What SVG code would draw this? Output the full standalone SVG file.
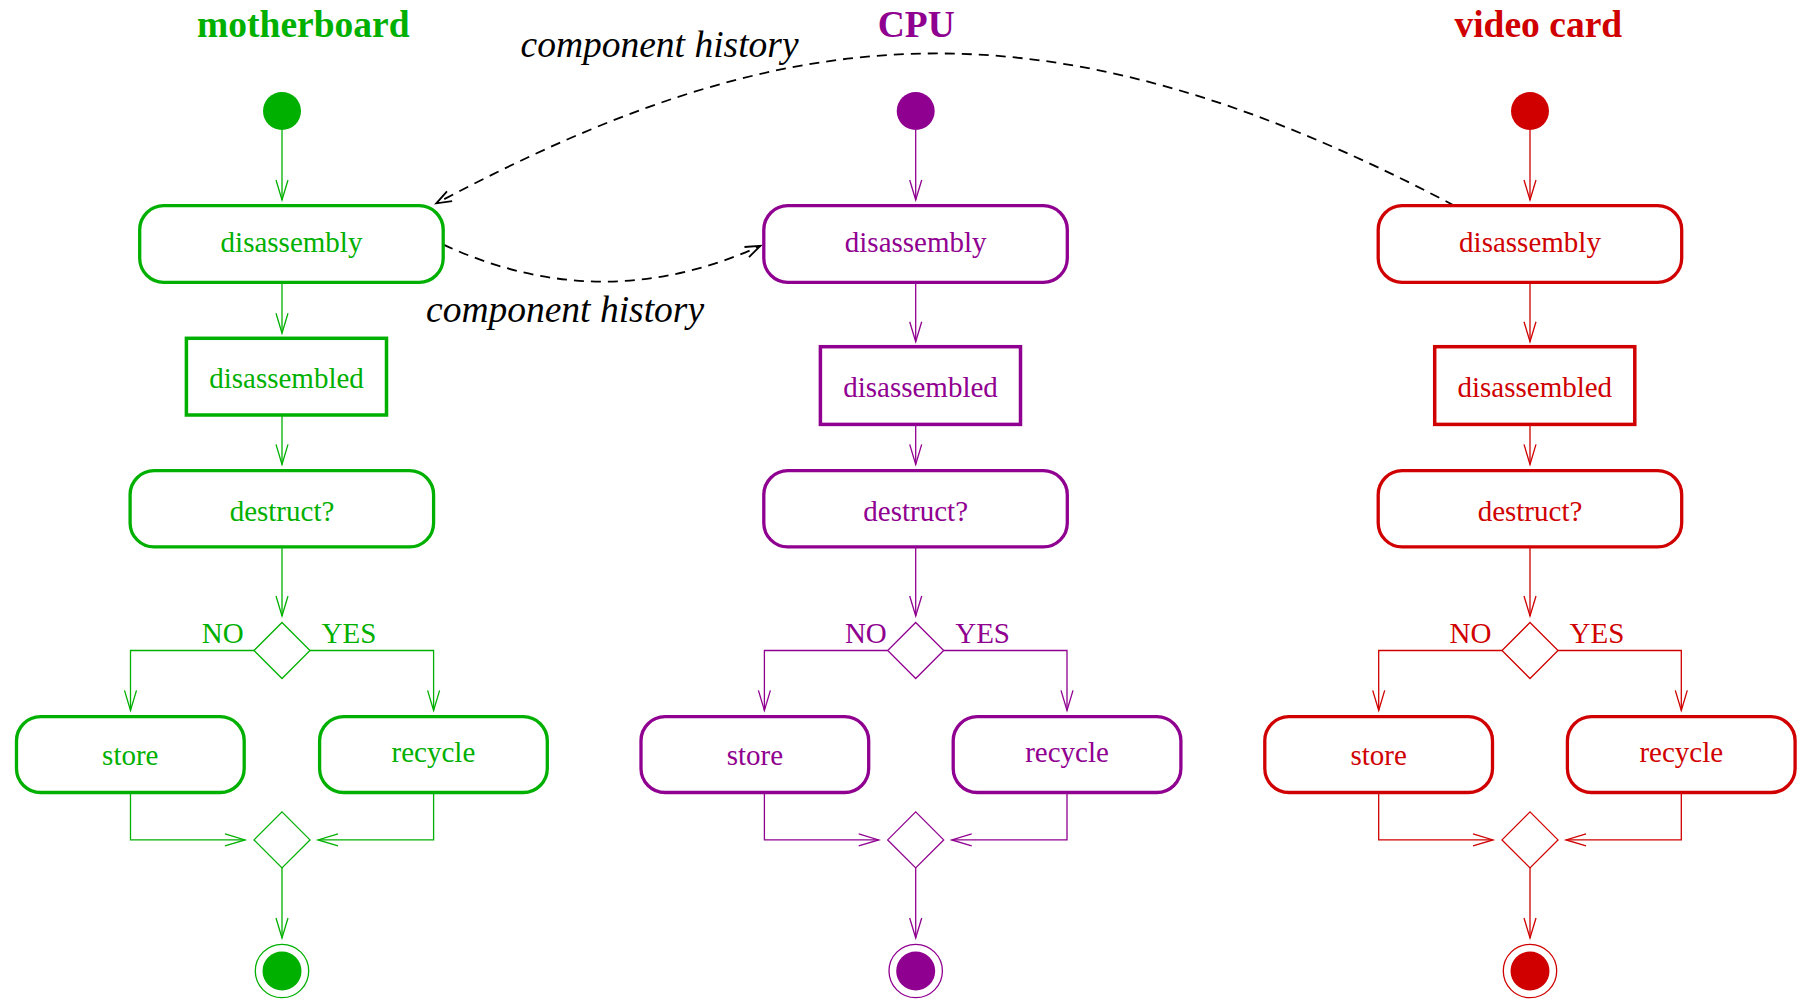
<svg xmlns="http://www.w3.org/2000/svg" width="1801" height="1000" viewBox="0 0 1801 1000">
  <style>
    text { font-family: "Liberation Serif", "Times New Roman", serif; }
    .title { font-size: 37.5px; font-weight: bold; text-anchor: middle; }
    .lbl { font-size: 29px; text-anchor: middle; }
    .guard { font-size: 29px; text-anchor: start; }
    .note { font-size: 37.5px; font-style: italic; fill: #000; }
    .act { fill: #fff; stroke-width: 3.3; }
    .obj { fill: #fff; stroke-width: 3.5; }
    .dia { fill: #fff; stroke-width: 1.3; }
    .ring { fill: none; stroke-width: 1.3; }
    .flow { fill: none; stroke-width: 1.3; }
    .dep { fill: none; stroke: #000; stroke-width: 1.8; stroke-dasharray: 10 7; }
    .green { stroke: #00b000; }
    .green text, text.green { fill: #00b000; stroke: none; }
    .green .dot { fill: #00b000; stroke: none; }
    .purple { stroke: #900090; }
    .purple text, text.purple { fill: #900090; stroke: none; }
    .purple .dot { fill: #900090; stroke: none; }
    .red { stroke: #d00000; }
    .red text, text.red { fill: #d00000; stroke: none; }
    .red .dot { fill: #d00000; stroke: none; }
  </style>
  <defs>
    <marker id="arrG" markerUnits="userSpaceOnUse" orient="auto" refX="0" refY="0" markerWidth="30" markerHeight="30" viewBox="-25 -15 30 30" overflow="visible">
      <path d="M-20,-6 L0,0 L-20,6" fill="none" stroke="#00b000" stroke-width="1.3"/>
    </marker>
    <marker id="arrP" markerUnits="userSpaceOnUse" orient="auto" refX="0" refY="0" markerWidth="30" markerHeight="30" viewBox="-25 -15 30 30" overflow="visible">
      <path d="M-20,-6 L0,0 L-20,6" fill="none" stroke="#900090" stroke-width="1.3"/>
    </marker>
    <marker id="arrR" markerUnits="userSpaceOnUse" orient="auto" refX="0" refY="0" markerWidth="30" markerHeight="30" viewBox="-25 -15 30 30" overflow="visible">
      <path d="M-20,-6 L0,0 L-20,6" fill="none" stroke="#d00000" stroke-width="1.3"/>
    </marker>
    <marker id="arrK" markerUnits="userSpaceOnUse" orient="auto" refX="0" refY="0" markerWidth="30" markerHeight="30" viewBox="-25 -15 30 30" overflow="visible">
      <path d="M-15,-5.5 L0,0 L-15,5.5" fill="none" stroke="#000" stroke-width="1.8"/>
    </marker>
  </defs>

  <rect width="1801" height="1000" fill="#fff"/>

  <!-- swimlane titles -->
  <text class="title green" x="303.3" y="36.5">motherboard</text>
  <text class="title purple" x="916.3" y="36.5">CPU</text>
  <text class="title red" x="1538.3" y="36.5">video card</text>

  <!-- connectors -->
  <g id="connectors">
    <g class="green">
      <path class="flow" marker-end="url(#arrG)" d="M282,130 V200"/>
      <path class="flow" marker-end="url(#arrG)" d="M282,282.3 V333.3"/>
      <path class="flow" marker-end="url(#arrG)" d="M282,415 V464.4"/>
      <path class="flow" marker-end="url(#arrG)" d="M282,547 V616"/>
      <path class="flow" marker-end="url(#arrG)" d="M254,650.5 H130.5 V710.4"/>
      <path class="flow" marker-end="url(#arrG)" d="M310,650.5 H433.6 V710.4"/>
      <path class="flow" marker-end="url(#arrG)" d="M130.5,792.5 V839.9 H245"/>
      <path class="flow" marker-end="url(#arrG)" d="M433.6,792.5 V839.9 H318"/>
      <path class="flow" marker-end="url(#arrG)" d="M282,867.9 V938"/>
      <text class="guard" x="201.7" y="642.5">NO</text>
      <text class="guard" x="321.5" y="642.5">YES</text>
    </g>
    <g class="purple">
      <path class="flow" marker-end="url(#arrP)" d="M915.7,130 V200"/>
      <path class="flow" marker-end="url(#arrP)" d="M915.7,282.3 V341.7"/>
      <path class="flow" marker-end="url(#arrP)" d="M915.7,424.4 V464.4"/>
      <path class="flow" marker-end="url(#arrP)" d="M915.7,547 V616"/>
      <path class="flow" marker-end="url(#arrP)" d="M887.7,650.5 H764.4 V710.4"/>
      <path class="flow" marker-end="url(#arrP)" d="M943.7,650.5 H1067 V710.4"/>
      <path class="flow" marker-end="url(#arrP)" d="M764.4,792.5 V839.9 H878.7"/>
      <path class="flow" marker-end="url(#arrP)" d="M1067,792.5 V839.9 H951.7"/>
      <path class="flow" marker-end="url(#arrP)" d="M915.7,867.9 V938"/>
      <text class="guard" x="844.9" y="642.5">NO</text>
      <text class="guard" x="955.2" y="642.5">YES</text>
    </g>
    <g class="red">
      <path class="flow" marker-end="url(#arrR)" d="M1530,130 V200"/>
      <path class="flow" marker-end="url(#arrR)" d="M1530,282.3 V341.7"/>
      <path class="flow" marker-end="url(#arrR)" d="M1530,424.4 V464.4"/>
      <path class="flow" marker-end="url(#arrR)" d="M1530,547 V616"/>
      <path class="flow" marker-end="url(#arrR)" d="M1502,650.5 H1378.7 V710.4"/>
      <path class="flow" marker-end="url(#arrR)" d="M1558,650.5 H1681.3 V710.4"/>
      <path class="flow" marker-end="url(#arrR)" d="M1378.7,792.5 V839.9 H1493"/>
      <path class="flow" marker-end="url(#arrR)" d="M1681.3,792.5 V839.9 H1566"/>
      <path class="flow" marker-end="url(#arrR)" d="M1530,867.9 V938"/>
      <text class="guard" x="1449.5" y="642.5">NO</text>
      <text class="guard" x="1569.5" y="642.5">YES</text>
    </g>
    <!-- component history links -->
    <path class="dep" marker-end="url(#arrK)" d="M443.4,244.6 Q601.9,318 760.4,245.8"/>
    <path class="dep" marker-end="url(#arrK)" d="M1454.5,205.7 C1034,-16 776,23 436.3,203.3"/>
    <text class="note" x="520.5" y="56.5">component history</text>
    <text class="note" x="426" y="321.5">component history</text>
  </g>

  <!-- motherboard lane -->
  <g id="mb-start" class="green"><circle class="dot" cx="282" cy="111" r="19"/></g>
  <g id="mb-disassembly" class="green">
    <rect class="act" x="139.7" y="205.7" width="303.5" height="76.6" rx="24"/>
    <text class="lbl" x="291.5" y="251.5">disassembly</text>
  </g>
  <g id="mb-disassembled" class="green">
    <rect class="obj" x="186.4" y="338.3" width="200.1" height="76.7"/>
    <text class="lbl" x="286.5" y="388.2">disassembled</text>
  </g>
  <g id="mb-destruct" class="green">
    <rect class="act" x="130.1" y="470.7" width="303.5" height="76.2" rx="24"/>
    <text class="lbl" x="282" y="520.5">destruct?</text>
  </g>
  <g id="mb-decision" class="green"><polygon class="dia" points="282,622.5 310,650.5 282,678.5 254,650.5"/></g>
  <g id="mb-store" class="green">
    <rect class="act" x="16.5" y="716.7" width="227.7" height="75.8" rx="24"/>
    <text class="lbl" x="130.3" y="765.3">store</text>
  </g>
  <g id="mb-recycle" class="green">
    <rect class="act" x="319.6" y="716.7" width="227.7" height="75.8" rx="24"/>
    <text class="lbl" x="433.4" y="761.6">recycle</text>
  </g>
  <g id="mb-merge" class="green"><polygon class="dia" points="282,811.9 310,839.9 282,867.9 254,839.9"/></g>
  <g id="mb-end" class="green">
    <circle class="ring" cx="282" cy="971" r="26.7"/>
    <circle class="dot" cx="282" cy="971" r="19.5"/>
  </g>

  <!-- CPU lane -->
  <g id="cpu-start" class="purple"><circle class="dot" cx="915.7" cy="111" r="19"/></g>
  <g id="cpu-disassembly" class="purple">
    <rect class="act" x="763.8" y="205.7" width="303.5" height="76.6" rx="24"/>
    <text class="lbl" x="915.7" y="251.5">disassembly</text>
  </g>
  <g id="cpu-disassembled" class="purple">
    <rect class="obj" x="820.4" y="346.7" width="200.1" height="77.7"/>
    <text class="lbl" x="920.5" y="396.5">disassembled</text>
  </g>
  <g id="cpu-destruct" class="purple">
    <rect class="act" x="763.8" y="470.7" width="303.5" height="76.2" rx="24"/>
    <text class="lbl" x="915.7" y="520.5">destruct?</text>
  </g>
  <g id="cpu-decision" class="purple"><polygon class="dia" points="915.7,622.5 943.7,650.5 915.7,678.5 887.7,650.5"/></g>
  <g id="cpu-store" class="purple">
    <rect class="act" x="641" y="716.7" width="227.7" height="75.8" rx="24"/>
    <text class="lbl" x="754.9" y="765.3">store</text>
  </g>
  <g id="cpu-recycle" class="purple">
    <rect class="act" x="953.2" y="716.7" width="227.7" height="75.8" rx="24"/>
    <text class="lbl" x="1067" y="761.6">recycle</text>
  </g>
  <g id="cpu-merge" class="purple"><polygon class="dia" points="915.7,811.9 943.7,839.9 915.7,867.9 887.7,839.9"/></g>
  <g id="cpu-end" class="purple">
    <circle class="ring" cx="915.7" cy="971" r="26.7"/>
    <circle class="dot" cx="915.7" cy="971" r="19.5"/>
  </g>

  <!-- video card lane -->
  <g id="vc-start" class="red"><circle class="dot" cx="1530" cy="111" r="19"/></g>
  <g id="vc-disassembly" class="red">
    <rect class="act" x="1378.2" y="205.7" width="303.5" height="76.6" rx="24"/>
    <text class="lbl" x="1530" y="251.5">disassembly</text>
  </g>
  <g id="vc-disassembled" class="red">
    <rect class="obj" x="1434.7" y="346.7" width="200.1" height="77.7"/>
    <text class="lbl" x="1534.8" y="396.5">disassembled</text>
  </g>
  <g id="vc-destruct" class="red">
    <rect class="act" x="1378.2" y="470.7" width="303.5" height="76.2" rx="24"/>
    <text class="lbl" x="1530" y="520.5">destruct?</text>
  </g>
  <g id="vc-decision" class="red"><polygon class="dia" points="1530,622.5 1558,650.5 1530,678.5 1502,650.5"/></g>
  <g id="vc-store" class="red">
    <rect class="act" x="1264.8" y="716.7" width="227.7" height="75.8" rx="24"/>
    <text class="lbl" x="1378.7" y="765.3">store</text>
  </g>
  <g id="vc-recycle" class="red">
    <rect class="act" x="1567.4" y="716.7" width="227.7" height="75.8" rx="24"/>
    <text class="lbl" x="1681.3" y="761.6">recycle</text>
  </g>
  <g id="vc-merge" class="red"><polygon class="dia" points="1530,811.9 1558,839.9 1530,867.9 1502,839.9"/></g>
  <g id="vc-end" class="red">
    <circle class="ring" cx="1530" cy="971" r="26.7"/>
    <circle class="dot" cx="1530" cy="971" r="19.5"/>
  </g>
</svg>
